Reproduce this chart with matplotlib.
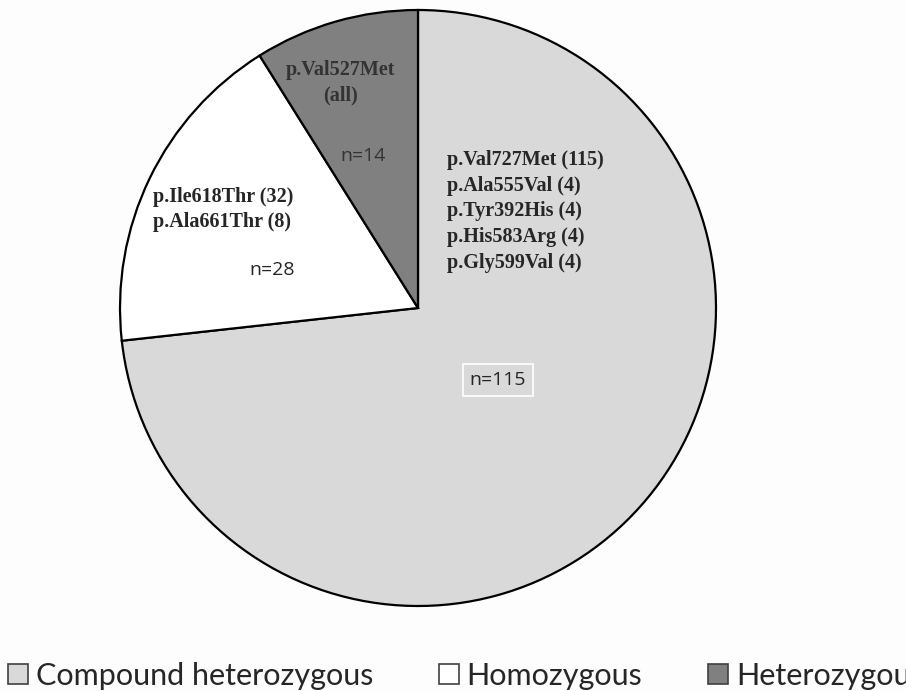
import matplotlib
matplotlib.use("Agg")
import matplotlib.pyplot as plt
from matplotlib.patches import Patch

categories = ["Compound heterozygous", "Homozygous", "Heterozygous"]
counts = [115, 28, 14]
colors = ["#d9d9d9", "#ffffff", "#808080"]
n_labels = ["n=115", "n=28", "n=14"]
compound_variants = ["p.Val727Met (115)", "p.Ala555Val (4)", "p.Tyr392His (4)",
                     "p.His583Arg (4)", "p.Gly599Val (4)"]
homo_variants = ["p.Ile618Thr (32)", "p.Ala661Thr (8)"]
hetero_variants = ["p.Val527Met", "(all)"]

W, H = 906, 691
fig = plt.figure(figsize=(W / 100, H / 100), dpi=100, facecolor="#fdfdfd")
ax = fig.add_axes([0, 0, 1, 1])
ax.set_facecolor("#fdfdfd")

cx, cy, R = 418, 308, 298
# y axis is inverted (pixel-like coordinates): start at visual top, go visually clockwise
wedges, _ = ax.pie(counts, colors=colors, startangle=-90, counterclock=True,
                   center=(cx, cy), radius=R, frame=True,
                   wedgeprops=dict(edgecolor="black", linewidth=1.6))
ax.set_xlim(0, W)
ax.set_ylim(H, 0)
ax.set_aspect("equal")
ax.axis("off")

serif = dict(family="Liberation Serif", fontweight="bold", fontsize=14.5)
sans = dict(family="Open Sans", fontsize=14)

# Heterozygous slice
ax.text(341, 70, hetero_variants[0], ha="center", va="center", color="#333333", **serif)
ax.text(341, 95, hetero_variants[1], ha="center", va="center", color="#333333", **serif)
ax.text(363, 156, n_labels[2], ha="center", va="center", color="#333333", **sans)

# Compound slice
for i, t in enumerate(compound_variants):
    ax.text(447, 160 + i * 25.7, t, ha="left", va="center", color="#262626", **serif)
ax.text(498, 380, n_labels[0], ha="center", va="center", color="#262626",
        bbox=dict(boxstyle="square,pad=0.35", facecolor="#d9d9d9", edgecolor="white", linewidth=1.2),
        **sans)

# Homozygous slice
for i, t in enumerate(homo_variants):
    ax.text(153, 197 + i * 25, t, ha="left", va="center", color="#262626", **serif)
ax.text(272, 270, n_labels[1], ha="center", va="center", color="#262626", **sans)

handles = [Patch(facecolor=c, edgecolor="#404040", linewidth=1.2) for c in colors]
ax.legend(handles, categories, loc="center left", bbox_to_anchor=(8 / W, 1 - 676 / H),
          ncol=3, frameon=False, handlelength=0.65, handleheight=0.65,
          handletextpad=0.26, columnspacing=2.15, borderpad=0, borderaxespad=0,
          prop=dict(family="Lato", size=22), labelcolor="#262626")

fig.savefig("out.png", dpi=100, facecolor=fig.get_facecolor())
